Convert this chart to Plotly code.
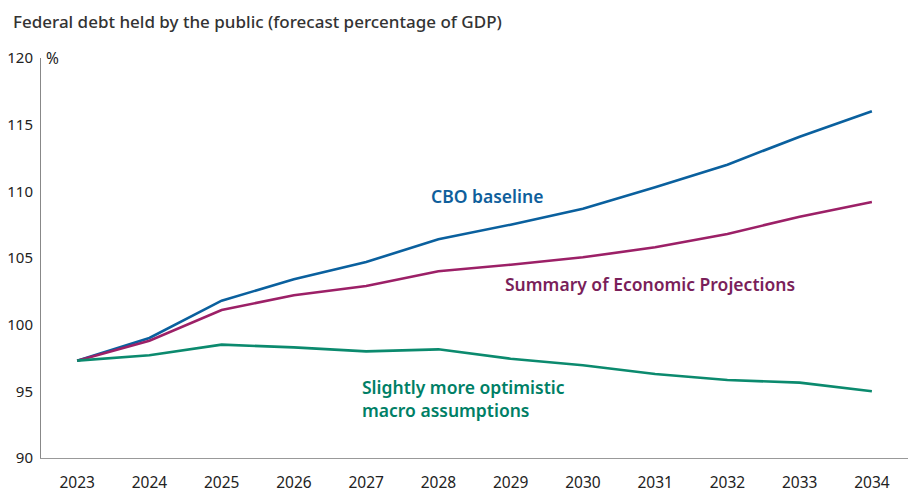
import plotly.graph_objects as go

years = [2023, 2024, 2025, 2026, 2027, 2028, 2029, 2030, 2031, 2032, 2033, 2034]
cbo_baseline = [97.3, 99.0, 101.8, 103.4, 104.7, 106.4, 107.5, 108.7, 110.3, 112.0, 114.1, 116.0]
sep_projections = [97.3, 98.8, 101.1, 102.2, 102.9, 104.0, 104.5, 105.05, 105.8, 106.8, 108.1, 109.2]
optimistic = [97.3, 97.7, 98.5, 98.3, 98.0, 98.15, 97.45, 96.95, 96.3, 95.85, 95.65, 95.0]

series_names = ["CBO baseline", "Summary of Economic Projections", "Slightly more optimistic macro assumptions"]
colors = ["#0a609e", "#9c2067", "#0b8a6e"]
label_colors = ["#0f5f9c", "#7a1f5a", "#007f66"]

FONT = "Noto Sans"

fig = go.Figure()
for name, vals, c in zip(series_names, [cbo_baseline, sep_projections, optimistic], colors):
    fig.add_trace(go.Scatter(x=years, y=vals, mode="lines", name=name,
                             line=dict(color=c, width=2.6), showlegend=False,
                             hoverinfo="skip"))

L, R, T, B = 33, 16, 50, 50
PW = 916 - L - R
PH = 500 - T - B

fig.update_layout(
    width=916, height=500,
    paper_bgcolor="white", plot_bgcolor="white",
    margin=dict(l=L, r=R, t=T, b=B),
    font=dict(family=FONT, size=14, color="#222"),
    xaxis=dict(range=[2022.5, 2034.5], tickmode="array", tickvals=years,
               ticktext=[str(y) for y in years], showgrid=False, zeroline=False,
               showline=True, linecolor="#999", linewidth=1, ticks="", automargin=False,
               tickfont=dict(family=FONT, size=15.5, color="#222"), ticklabelstandoff=10),
    yaxis=dict(range=[90, 120], tickmode="array", tickvals=[90, 95, 100, 105, 110, 115, 120],
               showgrid=False, zeroline=False, showline=True, linecolor="#888", linewidth=1,
               ticks="", automargin=False,
               tickfont=dict(family=FONT, size=15, color="#222"), ticklabelstandoff=4),
)

fig.add_annotation(text="Federal debt held by the public (forecast percentage of GDP)",
                   xref="paper", yref="paper", x=-L / PW + 4 / PW, y=1 + (T - 1.5) / PH,
                   xanchor="left", yanchor="top", borderpad=0,
                   showarrow=False, font=dict(family=FONT, size=17, color="#333", weight=500))
fig.add_annotation(text="%", xref="paper", yref="y", x=3 / PW, y=120, xanchor="left", yanchor="middle",
                   showarrow=False, font=dict(family=FONT, size=15.5, color="#222"))

fig.add_annotation(text="CBO baseline", x=2028.67, y=109.67, xanchor="center", yanchor="middle",
                   showarrow=False, font=dict(family=FONT, size=17.5, color=label_colors[0], weight=600))
fig.add_annotation(text="Summary of Economic Projections", x=2028.9, y=103.05, xanchor="left", yanchor="middle",
                   showarrow=False, font=dict(family=FONT, size=17.5, color=label_colors[1], weight=600))
fig.add_annotation(text="Slightly more optimistic<br>macro assumptions", x=2026.91, y=94.43, xanchor="left",
                   yanchor="middle", align="left", showarrow=False,
                   font=dict(family=FONT, size=17.5, color=label_colors[2], weight=600))

fig.write_html("out.html")
